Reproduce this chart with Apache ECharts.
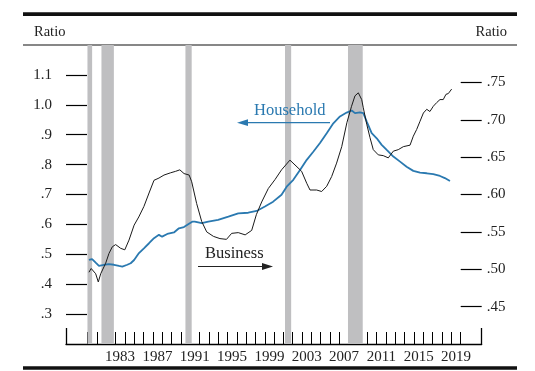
<!DOCTYPE html>
<html>
<head>
<meta charset="utf-8">
<script src="https://cdn.jsdelivr.net/npm/echarts@6/dist/echarts.min.js"></script>
<style>
  html, body { margin: 0; padding: 0; background: #fff; }
  #chart { width: 535px; height: 371px; }
</style>
</head>
<body>
<div id="chart"></div>
<script>
// ---- Data ----
const businessYears = [1980.16,1980.4,1980.88,1981.16,1981.42,1981.59,1981.95,1982.3,1982.66,1983.02,1983.56,1984.0,1984.45,1985.0,1985.5,1986.05,1986.6,1987.13,1987.66,1988.2,1988.9,1989.45,1989.9,1990.35,1990.9,1991.17,1991.7,1992.24,1992.78,1993.5,1994.2,1994.9,1995.45,1996.16,1996.9,1997.6,1998.1,1998.67,1999.38,2000.1,2000.8,2001.7,2002.95,2003.5,2003.85,2004.56,2005.1,2005.64,2006.17,2006.7,2007.25,2007.8,2008.3,2008.67,2009.03,2009.39,2009.56,2009.93,2010.28,2010.63,2011.17,2011.7,2012.24,2012.78,2013.31,2013.85,2014.57,2014.92,2015.28,2015.64,2016.0,2016.36,2016.7,2017.06,2017.43,2017.78,2018.13,2018.42,2018.67,2019.03];
const businessValues = [0.496,0.501,0.494,0.483,0.494,0.495,0.508,0.521,0.530,0.533,0.528,0.526,0.539,0.559,0.570,0.584,0.602,0.619,0.622,0.626,0.629,0.631,0.633,0.628,0.626,0.617,0.588,0.564,0.550,0.544,0.541,0.540,0.548,0.549,0.546,0.552,0.573,0.590,0.608,0.620,0.633,0.646,0.631,0.615,0.606,0.606,0.604,0.611,0.624,0.642,0.664,0.696,0.718,0.732,0.736,0.727,0.716,0.694,0.676,0.660,0.653,0.652,0.649,0.658,0.660,0.664,0.666,0.678,0.687,0.698,0.709,0.714,0.711,0.718,0.723,0.727,0.727,0.734,0.735,0.741];

const householdYears = [1980.16,1980.5,1980.88,1981.23,1981.77,1982.3,1982.84,1983.38,1983.73,1984.27,1984.63,1985.0,1985.52,1986.05,1986.6,1987.13,1987.66,1988.0,1988.55,1989.27,1989.8,1990.34,1990.88,1991.23,1991.5,1992.24,1992.95,1994.0,1995.1,1996.16,1997.23,1998.13,1999.02,1999.9,2000.8,2001.35,2002.06,2002.78,2003.5,2004.2,2004.92,2005.64,2006.35,2007.06,2007.78,2008.32,2008.67,2009.2,2009.56,2009.93,2010.46,2011.0,2011.53,2012.07,2012.78,2013.5,2014.2,2014.92,2015.64,2016.36,2017.06,2017.78,2018.3,2018.85];
const householdValues = [0.481,0.484,0.472,0.461,0.465,0.467,0.465,0.461,0.459,0.465,0.470,0.481,0.504,0.520,0.537,0.554,0.565,0.559,0.568,0.573,0.587,0.591,0.602,0.609,0.609,0.604,0.609,0.615,0.626,0.637,0.639,0.645,0.660,0.676,0.699,0.726,0.749,0.782,0.816,0.843,0.872,0.905,0.938,0.961,0.974,0.981,0.972,0.975,0.972,0.944,0.905,0.888,0.866,0.849,0.827,0.810,0.793,0.779,0.773,0.771,0.768,0.762,0.755,0.745];

const recessionStart = [1980.0, 1981.5, 1990.5, 2001.17, 2007.92];
const recessionEnd   = [1980.5, 1982.83, 1991.17, 2001.83, 2009.5];

const yearTicks = [];
for (let y = 1980; y <= 2020; y++) yearTicks.push(y);
const yearLabels = [1983, 1987, 1991, 1995, 1999, 2003, 2007, 2011, 2015, 2019];
const leftTicks = [0.3, 0.4, 0.5, 0.6, 0.7, 0.8, 0.9, 1.0, 1.1];
const rightTicks = [0.45, 0.50, 0.55, 0.60, 0.65, 0.70, 0.75];

// ---- Chart ----
const FONT = 'Liberation Serif';
const BLUE = '#2a79b0';
const INK = '#1a1a1a';
const xMin = 1977.7, xMax = 2022.25;

const chart = echarts.init(document.getElementById('chart'), null, { renderer: 'canvas' });

const zip = (a, b) => a.map((v, i) => [v, b[i]]);

const option = {
  animation: false,
  backgroundColor: '#fff',
  grid: { left: 66, right: 53.3, top: 45, bottom: 27, containLabel: false },
  xAxis: [
    {
      type: 'value', min: xMin, max: xMax,
      axisLine: { show: true, lineStyle: { color: '#000', width: 1.3 } },
      axisTick: { show: true, inside: true, length: 12, customValues: yearTicks, lineStyle: { color: '#000', width: 1 } },
      axisLabel: {
        show: true, customValues: yearLabels.map(y => y + 0.5), margin: 6,
        formatter: v => String(Math.floor(v)), fontFamily: FONT, fontSize: 15, color: '#222'
      },
      splitLine: { show: false }
    },
    {
      type: 'value', min: xMin, max: xMax, position: 'bottom',
      axisLine: { show: false },
      axisTick: { show: true, inside: true, length: 16, customValues: [xMin, xMax], lineStyle: { color: '#000', width: 1.3 } },
      axisLabel: { show: false },
      splitLine: { show: false }
    }
  ],
  yAxis: [
    {
      type: 'value', position: 'left', min: 0.2, max: 1.2,
      axisLine: { show: false },
      axisTick: { show: true, inside: true, length: 21, customValues: leftTicks, lineStyle: { color: '#000', width: 1.2 } },
      axisLabel: {
        customValues: leftTicks, margin: 14, fontFamily: FONT, fontSize: 15, color: '#222',
        formatter: v => (v >= 1 ? v.toFixed(1) : v.toFixed(1).slice(1))
      },
      splitLine: { show: false }
    },
    {
      type: 'value', position: 'right', min: 0.4, max: 0.8,
      axisLine: { show: false },
      axisTick: { show: true, inside: true, length: 21, customValues: rightTicks, lineStyle: { color: '#000', width: 1.2 } },
      axisLabel: {
        customValues: rightTicks, margin: 5, fontFamily: FONT, fontSize: 15, color: '#222',
        formatter: v => v.toFixed(2).slice(1)
      },
      splitLine: { show: false }
    }
  ],
  series: [
    {
      type: 'custom', name: 'Recessions', xAxisIndex: 0, yAxisIndex: 0, z: 1, silent: true,
      data: recessionStart.map((s, i) => [s, recessionEnd[i]]),
      renderItem: function (params, api) {
        const cs = params.coordSys;
        const x0 = api.coord([api.value(0), 0.7])[0];
        const x1 = api.coord([api.value(1), 0.7])[0];
        return {
          type: 'rect',
          shape: { x: x0, y: cs.y, width: x1 - x0, height: cs.height },
          style: { fill: '#bfbfc1' }
        };
      }
    },
    {
      type: 'line', name: 'Household', xAxisIndex: 0, yAxisIndex: 0, z: 3,
      data: zip(householdYears, householdValues),
      showSymbol: false, smooth: false,
      lineStyle: { color: BLUE, width: 1.8 }
    },
    {
      type: 'line', name: 'Business', xAxisIndex: 0, yAxisIndex: 1, z: 4,
      data: zip(businessYears, businessValues),
      showSymbol: false, smooth: false,
      lineStyle: { color: INK, width: 1 }
    }
  ],
  graphic: [
    { type: 'rect', shape: { x: 23, y: 12.3, width: 494, height: 3.6 }, style: { fill: '#111' }, silent: true },
    { type: 'line', shape: { x1: 23, y1: 45, x2: 517, y2: 45 }, style: { stroke: '#111', lineWidth: 1.2 }, silent: true },
    { type: 'rect', shape: { x: 23, y: 366.2, width: 494, height: 3.6 }, style: { fill: '#111' }, silent: true },
    { type: 'text', x: 34, y: 32, style: { text: 'Ratio', font: '14.5px "' + FONT + '"', fill: '#222', textVerticalAlign: 'middle', textAlign: 'left' } },
    { type: 'text', x: 507, y: 32, style: { text: 'Ratio', font: '14.5px "' + FONT + '"', fill: '#222', textVerticalAlign: 'middle', textAlign: 'right' } },
    { type: 'text', x: 254, y: 111, z: 10, style: { text: 'Household', font: '16.5px "' + FONT + '"', fill: BLUE, textVerticalAlign: 'middle', textAlign: 'left' } },
    { type: 'line', z: 10, shape: { x1: 330, y1: 122.7, x2: 246, y2: 122.7 }, style: { stroke: BLUE, lineWidth: 1.3 } },
    { type: 'polygon', z: 10, shape: { points: [[237, 122.7], [248, 119.3], [248, 126.1]] }, style: { fill: BLUE } },
    { type: 'text', x: 205, y: 254, z: 10, style: { text: 'Business', font: '16.5px "' + FONT + '"', fill: '#222', textVerticalAlign: 'middle', textAlign: 'left' } },
    { type: 'line', z: 10, shape: { x1: 198, y1: 266.5, x2: 264, y2: 266.5 }, style: { stroke: '#222', lineWidth: 1.2 } },
    { type: 'polygon', z: 10, shape: { points: [[273, 266.5], [262, 263.1], [262, 269.9]] }, style: { fill: '#222' } }
  ]
};

chart.setOption(option);
</script>
</body>
</html>
